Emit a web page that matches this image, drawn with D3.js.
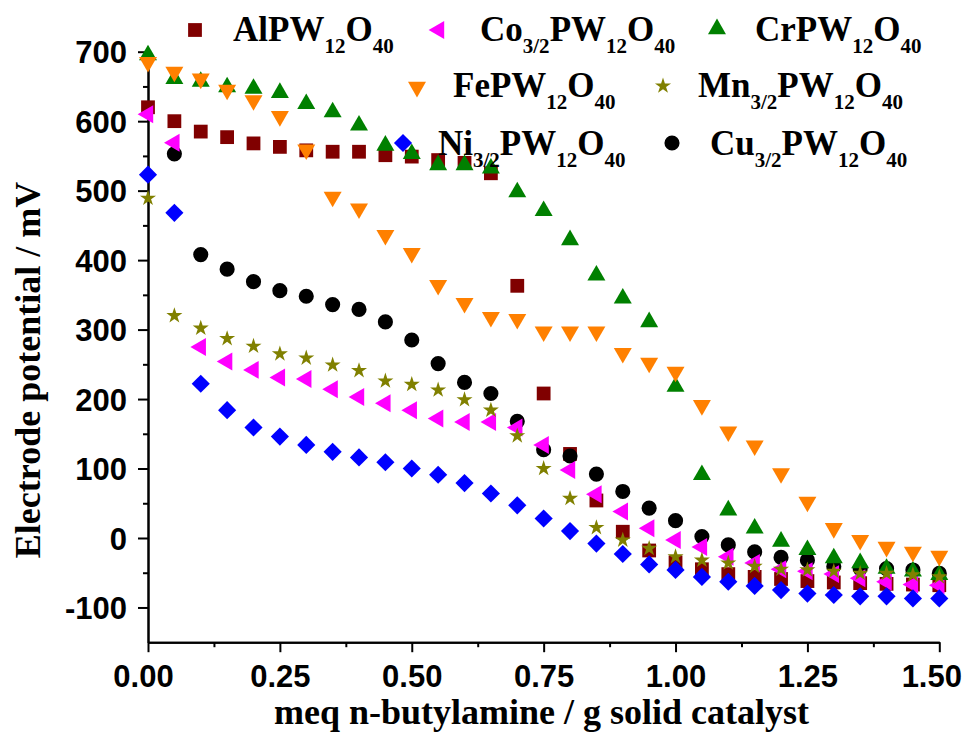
<!DOCTYPE html>
<html>
<head>
<meta charset="utf-8">
<script src="https://cdn.jsdelivr.net/npm/d3@7"></script>
<style>
  body { margin: 0; background: #fff; }
  .axis text { font-family: "Liberation Sans", Arial, sans-serif; font-weight: bold; fill: #000; }
  .label { font-family: "Liberation Serif", "Times New Roman", serif; font-weight: bold; fill: #000; }
</style>
</head>
<body>
<svg width="965" height="735"></svg>
<script>
// meq n-butylamine / g
const xValues = [0, 0.05, 0.10, 0.15, 0.20, 0.25, 0.30, 0.35, 0.40, 0.45, 0.50,
  0.55, 0.60, 0.65, 0.70, 0.75, 0.80, 0.85, 0.90, 0.95, 1.00,
  1.05, 1.10, 1.15, 1.20, 1.25, 1.30, 1.35, 1.40, 1.45, 1.50];

// electrode potential (mV)
const alValues = [620, 600, 585, 577, 568, 563, 558, 556, 556, 551, 549, 544, 540, 525, 363, 208,
  121, 54, 9, -18, -35, -45, -52, -56, -59, -62, -64, -65, -66, -67, -68];
const coValues = [610, 569, 275, 254, 242, 231, 229, 214, 203, 194, 184, 172, 167, 167, 159, 134,
  98, 63, 38, 14, -3, -13, -27, -36, -45, -48, -52, -58, -63, -67, -68];
const crValues = [695, 661, 657, 649, 647, 641, 625, 613, 594, 565, 553, 537, 537, 532, 498, 471,
  429, 378, 345, 311, 218, 91, 40, 14, -5, -17, -29, -36, -44, -48, -53];
const feValues = [685, 671, 661, 645, 630, 607, 559, 491, 474, 436, 410, 364, 338, 318, 315, 297,
  297, 297, 266, 252, 239, 191, 153, 133, 93, 52, 14, -3, -13, -20, -26];
const mnValues = [489, 320, 302, 287, 276, 265, 259, 249, 241, 226, 221, 213, 199, 184, 147, 100,
  57, 15, -3, -15, -27, -32, -36, -41, -45, -46, -48, -51, -51, -53, -56];
const niValues = [523, 468, 222, 184, 159, 146, 134, 124, 116, 109, 100, 91, 79, 64, 47, 28,
  10, -8, -23, -38, -46, -56, -63, -69, -75, -80, -82, -84, -84, -87, -87];
const cuValues = [null, 553, 408, 387, 369, 356, 348, 336, 329, 311, 285, 251, 224, 208, 168, 127,
  118, 92, 67, 43, 25, 2, -10, -20, -28, -32, -41, -44, -44, -46, -51];

const seriesNames = ["AlPW12O40", "Co3/2PW12O40", "CrPW12O40", "FePW12O40",
  "Mn3/2PW12O40", "Ni3/2PW12O40", "Cu3/2PW12O40"];
const seriesValues = [alValues, coValues, crValues, feValues, mnValues, niValues, cuValues];
const seriesColors = ["#800000", "#ff00ff", "#008000", "#ff8000", "#808000", "#0000ff", "#000000"];

const xTicks = [0, 0.25, 0.5, 0.75, 1.0, 1.25, 1.5];
const xMinor = [0.125, 0.375, 0.625, 0.875, 1.125, 1.375];
const yTicks = [-100, 0, 100, 200, 300, 400, 500, 600, 700];
const yMinor = [-50, 50, 150, 250, 350, 450, 550, 650];

// marker shape per series: square, left triangle, up triangle, down triangle, star, diamond, circle
const shapes = [
  { type: d3.symbolSquare, size: 190, rot: 0 },
  { type: d3.symbolTriangle, size: 140, rot: -90 },
  { type: d3.symbolTriangle, size: 140, rot: 0 },
  { type: d3.symbolTriangle, size: 140, rot: 180 },
  { type: d3.symbolStar, size: 80, rot: 0 },
  { type: d3.symbolSquare, size: 165, rot: 45 },
  { type: d3.symbolCircle, size: 180, rot: 0 }
];
const drawOrder = [0, 6, 1, 2, 3, 4, 5];

const svg = d3.select('svg');

const x = d3.scaleLinear().domain([0, 1.5]).range([148, 939.3]);
const y = d3.scaleLinear().domain([-150, 700]).range([642.2, 51.7]);

// axes
const xAxis = svg.append('g')
  .attr('class', 'axis')
  .attr('transform', `translate(0, ${y(-150)})`)
  .call(d3.axisBottom(x).tickValues(xTicks).tickSize(10).tickSizeOuter(0)
    .tickPadding(13).tickFormat(d3.format('.2f')));

svg.append('g')
  .attr('class', 'axis minor')
  .attr('transform', `translate(0, ${y(-150)})`)
  .call(d3.axisBottom(x).tickValues(xMinor).tickSize(5).tickSizeOuter(0).tickFormat(''));

const yAxis = svg.append('g')
  .attr('class', 'axis')
  .attr('transform', `translate(${x(0)}, 0)`)
  .call(d3.axisLeft(y).tickValues(yTicks).tickSize(10).tickSizeOuter(0)
    .tickPadding(11).tickFormat(d => String(d)));

svg.append('g')
  .attr('class', 'axis minor')
  .attr('transform', `translate(${x(0)}, 0)`)
  .call(d3.axisLeft(y).tickValues(yMinor).tickSize(5).tickSizeOuter(0).tickFormat(''));

svg.selectAll('.axis path, .axis line')
  .attr('stroke', '#000')
  .attr('stroke-width', 2);
svg.selectAll('.axis text').attr('font-size', 31);
yAxis.selectAll('text').attr('dy', '0.36em');
// first and last x labels sit a little left, keeps 1.50 inside the picture
xAxis.selectAll('.tick text')
  .attr('x', d => (d === 0 ? -5 : d === 1.5 ? -8 : 0));

// data points
drawOrder.forEach(function (s) {
  const sh = shapes[s];
  const pts = xValues.map((xv, i) => ({ x: xv, v: seriesValues[s][i] }))
    .filter(d => d.v !== null);
  svg.append('g')
    .selectAll('path')
    .data(pts)
    .enter()
    .append('path')
    .attr('d', d3.symbol().type(sh.type).size(sh.size))
    .attr('transform', d => `translate(${x(d.x)}, ${y(d.v)}) rotate(${sh.rot})`)
    .attr('fill', seriesColors[s]);
});

// axis titles
svg.append('text')
  .attr('class', 'label')
  .attr('x', 541.5)
  .attr('y', 724)
  .attr('text-anchor', 'middle')
  .attr('font-size', 36)
  .text('meq n-butylamine / g solid catalyst');

svg.append('text')
  .attr('class', 'label')
  .attr('transform', 'translate(40, 370) rotate(-90)')
  .attr('text-anchor', 'middle')
  .attr('font-size', 36)
  .text('Electrode potential / mV');

// legend
const legendPos = [
  { mx: 195, my: 30, tx: 233, ty: 41 },
  { mx: 439, my: 30, tx: 480, ty: 41 },
  { mx: 717, my: 29, tx: 755, ty: 41 },
  { mx: 417, my: 87, tx: 453, ty: 97 },
  { mx: 663, my: 86, tx: 698, ty: 97 },
  { mx: 403, my: 143, tx: 438, ty: 155 },
  { mx: 672, my: 143, tx: 710, ty: 155 }
];

const legend = svg.append('g');
seriesNames.forEach(function (name, s) {
  const p = legendPos[s];
  const sh = shapes[s];
  legend.append('path')
    .attr('d', d3.symbol().type(sh.type).size(sh.size))
    .attr('transform', `translate(${p.mx}, ${p.my}) rotate(${sh.rot})`)
    .attr('fill', seriesColors[s]);

  const t = legend.append('text')
    .attr('class', 'label')
    .attr('x', p.tx)
    .attr('y', p.ty)
    .attr('font-size', 35);
  // letters normal, numbers as subscripts
  const parts = name.match(/[A-Za-z]+|[0-9\/]+/g);
  let low = false;
  parts.forEach(function (part) {
    const isSub = /^[0-9\/]/.test(part);
    const ts = t.append('tspan').text(part);
    if (isSub) {
      ts.attr('font-size', 21);
      if (!low) ts.attr('dy', 12);
      low = true;
    } else {
      if (low) ts.attr('dy', -12);
      low = false;
    }
  });
});
</script>
</body>
</html>
